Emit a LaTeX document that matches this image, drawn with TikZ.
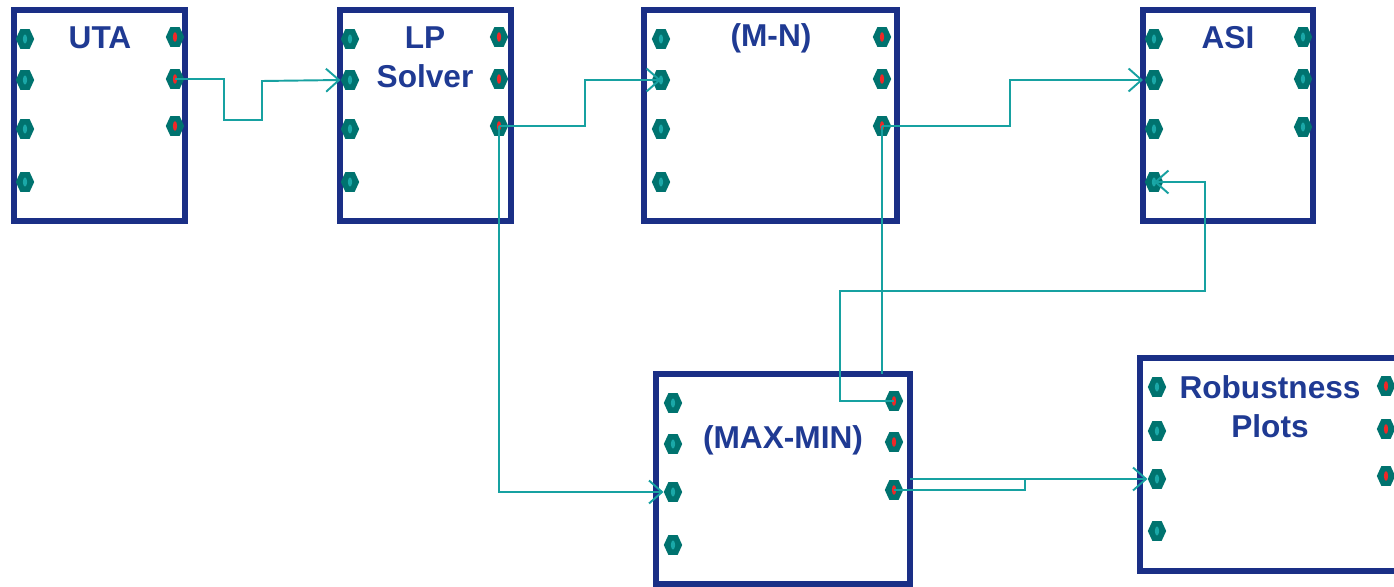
\documentclass[tikz,border=0pt]{standalone}
\usepackage{fontspec}
\setmainfont{Liberation Sans}
\usetikzlibrary{shapes,arrows.meta,positioning}
\definecolor{boxblue}{HTML}{1A2F86}
\definecolor{txtblue}{HTML}{1F3A93}
\definecolor{portteal}{HTML}{00736F}
\definecolor{wireteal}{HTML}{17A1A1}
\definecolor{dotteal}{HTML}{1AA8A8}
\definecolor{dotred}{HTML}{F02828}
\tikzstyle{blk}=[draw=boxblue,line width=3pt,inner sep=0pt,outer sep=0pt,fill=white]
\tikzstyle{ttl}=[text=txtblue,font=\fontsize{18}{22}\selectfont\bfseries,align=center]
\tikzstyle{port}=[regular polygon,regular polygon sides=6,fill=portteal,inner sep=0pt,minimum size=0.46cm,xscale=0.8]
\tikzstyle{inp}=[port,path picture={\fill[dotteal] (path picture bounding box.center) ellipse (1.5pt and 2.6pt);}]
\tikzstyle{outp}=[port,path picture={\fill[dotred] (path picture bounding box.center) ellipse (1.5pt and 2.8pt);}]
\tikzstyle{wire}=[draw=wireteal,line width=1.1pt]
\tikzstyle{arr}=[wire,-{Straight Barb[length=2.6mm,width=4.6mm,line width=1.1pt]}]

\begin{document}
\begin{tikzpicture}[x=0.02cm,y=-0.02cm]
    \useasboundingbox (0,0) rectangle (1394,587);
    % blocks
    \node[blk,minimum width=3.42cm,minimum height=4.22cm] (uta) at (99.5,115.5) {};
    \node[blk,minimum width=3.42cm,minimum height=4.22cm] (lp) at (425.5,115.5) {};
    \node[blk,minimum width=5.06cm,minimum height=4.22cm] (mn) at (770.5,115.5) {};
    \node[blk,minimum width=3.40cm,minimum height=4.22cm] (asi) at (1228,115.5) {};
    \node[blk,minimum width=5.08cm,minimum height=4.20cm] (mm) at (783,479) {};
    \node[blk,minimum width=5.60cm,minimum height=4.26cm] (rb) at (1280,464.5) {};
    % titles
    \node[ttl] (utaT) at (100,38) {UTA};
    \node[ttl] (lpT) at (425,57.5) {LP\\Solver};
    \node[ttl] (mnT) at (771,38) {(M-N)};
    \node[ttl] (asiT) at (1228,38) {ASI};
    \node[ttl] (mmT) at (783,440) {(MAX-MIN)};
    \node[ttl] (rbT) at (1270,407) {Robustness\\Plots};
    % ports
    \foreach \y [count=\i] in {39,80,129,182} {
        \node[inp] (utaL\i) at (25,\y) {};
        \node[inp] (lpL\i) at (350,\y) {};
        \node[inp] (mnL\i) at (661,\y) {};
        \node[inp] (asiL\i) at (1154,\y) {};
    }
    \foreach \y [count=\i] in {37,79,126} {
        \node[outp] (utaR\i) at (175,\y) {};
        \node[outp] (lpR\i) at (499,\y) {};
        \node[outp] (mnR\i) at (882,\y) {};
    }
    \node[inp] (asiR1) at (1303,37) {};
    \node[inp] (asiR2) at (1303,79) {};
    \node[inp] (asiR3) at (1303,127) {};
    \foreach \y [count=\i] in {403,444,492,545} \node[inp] (mmL\i) at (673,\y) {};
    \foreach \y [count=\i] in {401,442,490} \node[outp] (mmR\i) at (894,\y) {};
    \foreach \y [count=\i] in {387,431,479,531} \node[inp] (rbL\i) at (1157,\y) {};
    \foreach \y [count=\i] in {386,429,476} \node[outp] (rbR\i) at (1386,\y) {};
    % wires
    \draw[arr] (utaR2.center) -| (224,120) -| (262,81) -- (lpL2.west);
    \draw[arr] (lpR3.center) -- ++(86,0) |- (mnL2.center);
    \draw[arr] (mnR3.center) -- ++(128,0) |- (asi.west |- asiL2);
    \draw[arr] (lpR3.center) |- (mmL3.west);
    \draw[wire] (mnR3.center) -- (mnR3 |- mm.north);
    \draw[arr] (mmR1.center) -| (840,291) -| (1205,182) -- (asiL4.center);
    \draw[wire] (mmR3.center) -| (1025,479);
    \draw[arr] (mm.east |- rbL3) -- (rbL3.west);
\end{tikzpicture}
\end{document}
